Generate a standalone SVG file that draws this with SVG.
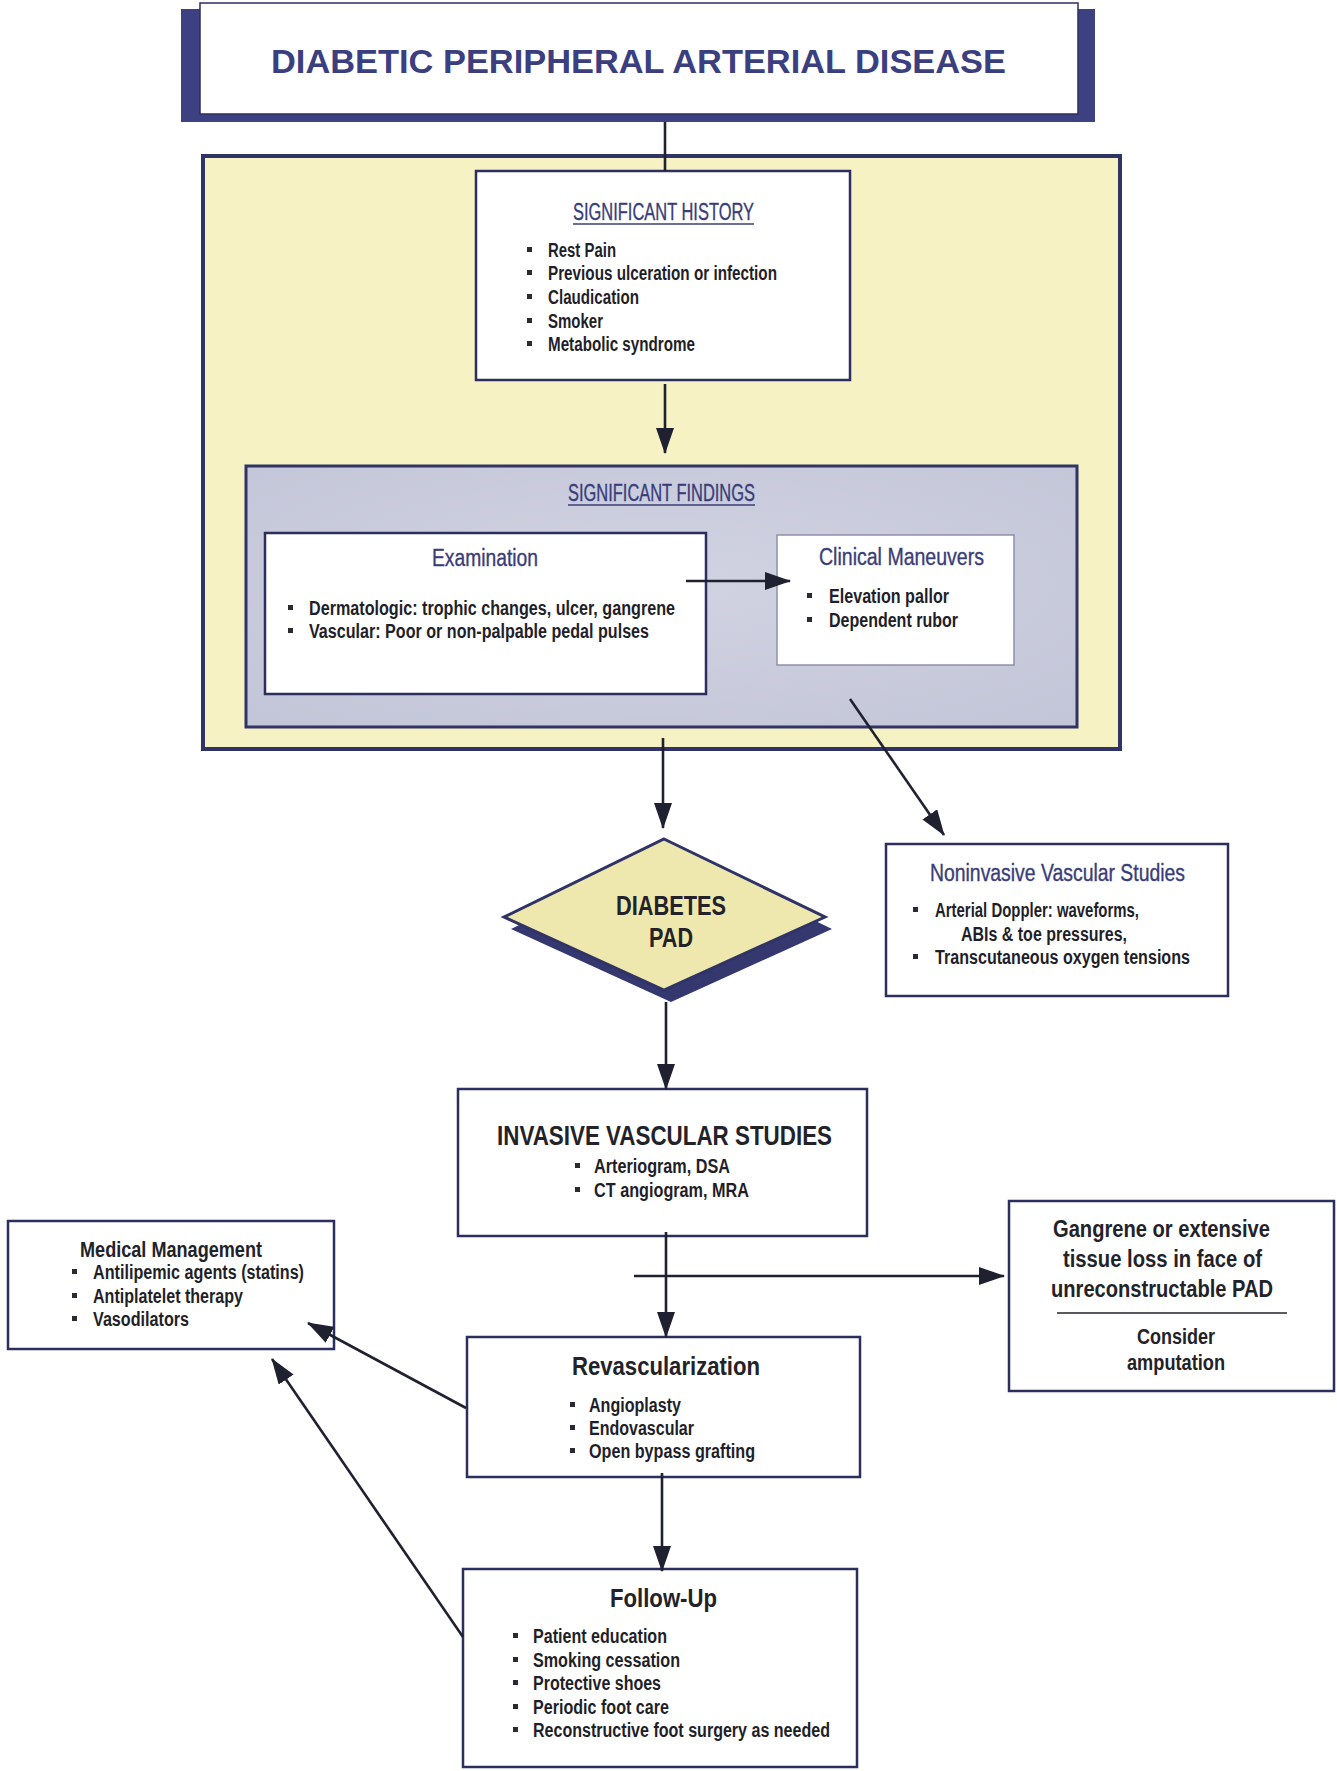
<svg xmlns="http://www.w3.org/2000/svg" width="1337" height="1771" viewBox="0 0 1337 1771">
<style>
.bx{fill:#ffffff;stroke:#2c2f5e;stroke-width:2.5}
.t{font-family:"Liberation Sans Narrow","Liberation Sans",Arial,sans-serif;font-weight:bold;fill:#1f1f29}
.b{font-size:20px}
.nv{font-family:"Liberation Sans Narrow","Liberation Sans",Arial,sans-serif;font-weight:normal;fill:#3a3d78;font-size:23px;stroke:#3a3d78;stroke-width:0.35}
.h{font-family:"Liberation Sans Narrow","Liberation Sans",Arial,sans-serif;font-weight:bold;fill:#222228}
.blt{fill:#2a2a33}
.c{stroke:#1f2030;stroke-width:2.6;fill:none}
.ca{stroke:#1f2030;stroke-width:2.6;fill:none;marker-end:url(#ah)}
</style>
<defs>
<marker id="ah" viewBox="0 0 26 18" markerWidth="26" markerHeight="18" refX="25" refY="9" orient="auto" markerUnits="userSpaceOnUse">
<path d="M0,0 L26,9 L0,18 z" fill="#1f2030"/>
</marker>
<radialGradient id="lav" cx="0.5" cy="0.45" r="0.7">
<stop offset="0" stop-color="#d1d3e2"/>
<stop offset="1" stop-color="#c3c6d8"/>
</radialGradient>
</defs>
<rect width="1337" height="1771" fill="#ffffff"/>

<g id="title">
<rect x="181" y="9" width="914" height="113" fill="#3d4182"/>
<rect x="200" y="3" width="878" height="111" fill="#ffffff" stroke="#2c2f5e" stroke-width="1.5"/>
<text x="271" y="73" textLength="735" lengthAdjust="spacingAndGlyphs" style="font-family:'Liberation Sans',Arial,sans-serif;font-weight:bold;font-size:34px;fill:#3b3f80">DIABETIC PERIPHERAL ARTERIAL DISEASE</text>
</g>

<g id="history-panel">
<rect x="203" y="156" width="917" height="593" fill="#f6f2c3" stroke="#2f3366" stroke-width="4"/>
</g>

<g id="significant-history">
<rect class="bx" x="476" y="171" width="374" height="209"/>
<text class="nv" x="573" y="220" textLength="181" lengthAdjust="spacingAndGlyphs">SIGNIFICANT HISTORY</text>
<line x1="573" y1="224" x2="754" y2="224" stroke="#3a3d78" stroke-width="1.5"/>
<rect class="blt" x="527" y="247" width="5" height="5"/>
<text class="t b" x="548" y="257" textLength="68" lengthAdjust="spacingAndGlyphs">Rest Pain</text>
<rect class="blt" x="527" y="270" width="5" height="5"/>
<text class="t b" x="548" y="280" textLength="229" lengthAdjust="spacingAndGlyphs">Previous ulceration or infection</text>
<rect class="blt" x="527" y="294" width="5" height="5"/>
<text class="t b" x="548" y="304" textLength="91" lengthAdjust="spacingAndGlyphs">Claudication</text>
<rect class="blt" x="527" y="318" width="5" height="5"/>
<text class="t b" x="548" y="328" textLength="55" lengthAdjust="spacingAndGlyphs">Smoker</text>
<rect class="blt" x="527" y="341" width="5" height="5"/>
<text class="t b" x="548" y="351" textLength="147" lengthAdjust="spacingAndGlyphs">Metabolic syndrome</text>
</g>

<g id="significant-findings">
<rect x="246" y="466" width="831" height="261" fill="url(#lav)" stroke="#2f3366" stroke-width="3"/>
<text class="nv" x="568" y="501" textLength="187" lengthAdjust="spacingAndGlyphs">SIGNIFICANT FINDINGS</text>
<line x1="568" y1="505" x2="755" y2="505" stroke="#3a3d78" stroke-width="1.5"/>
</g>

<g id="examination">
<rect class="bx" x="265" y="533" width="441" height="161" stroke-width="2"/>
<text class="nv" x="432" y="566" textLength="106" lengthAdjust="spacingAndGlyphs">Examination</text>
<rect class="blt" x="288" y="605" width="5" height="5"/>
<text class="t b" x="309" y="615" textLength="366" lengthAdjust="spacingAndGlyphs">Dermatologic: trophic changes, ulcer, gangrene</text>
<rect class="blt" x="288" y="628" width="5" height="5"/>
<text class="t b" x="309" y="638" textLength="340" lengthAdjust="spacingAndGlyphs">Vascular: Poor or non-palpable pedal pulses</text>
</g>

<g id="clinical-maneuvers">
<rect x="777" y="535" width="237" height="130" fill="#ffffff" stroke="#8d90ab" stroke-width="1.5"/>
<text class="nv" x="819" y="565" textLength="165" lengthAdjust="spacingAndGlyphs">Clinical Maneuvers</text>
<rect class="blt" x="807" y="593" width="5" height="5"/>
<text class="t b" x="829" y="603" textLength="120" lengthAdjust="spacingAndGlyphs">Elevation pallor</text>
<rect class="blt" x="807" y="617" width="5" height="5"/>
<text class="t b" x="829" y="627" textLength="129" lengthAdjust="spacingAndGlyphs">Dependent rubor</text>
</g>

<g id="diabetes-pad">
<polygon points="671,851 832,929 671,1002 511,929" fill="#34386f"/>
<polygon points="664,839 825,917 664,990 504,917" fill="#efe8ae" stroke="#2f3366" stroke-width="3"/>
<text class="h" x="616" y="915" textLength="110" lengthAdjust="spacingAndGlyphs" style="font-size:27px">DIABETES</text>
<text class="h" x="649" y="947" textLength="44" lengthAdjust="spacingAndGlyphs" style="font-size:27px">PAD</text>
</g>

<g id="noninvasive-studies">
<rect class="bx" x="886" y="844" width="342" height="152"/>
<text class="nv" x="930" y="881" textLength="255" lengthAdjust="spacingAndGlyphs">Noninvasive Vascular Studies</text>
<rect class="blt" x="913" y="907" width="5" height="5"/>
<text class="t b" x="935" y="917" textLength="204" lengthAdjust="spacingAndGlyphs">Arterial Doppler: waveforms,</text>
<text class="t b" x="961" y="941" textLength="166" lengthAdjust="spacingAndGlyphs">ABIs &amp; toe pressures,</text>
<rect class="blt" x="913" y="954" width="5" height="5"/>
<text class="t b" x="935" y="964" textLength="255" lengthAdjust="spacingAndGlyphs">Transcutaneous oxygen tensions</text>
</g>

<g id="invasive-studies">
<rect class="bx" x="458" y="1089" width="409" height="147"/>
<text class="h" x="497" y="1145" textLength="335" lengthAdjust="spacingAndGlyphs" style="font-size:28px">INVASIVE VASCULAR STUDIES</text>
<rect class="blt" x="575" y="1163" width="5" height="5"/>
<text class="t b" x="594" y="1173" textLength="136" lengthAdjust="spacingAndGlyphs">Arteriogram, DSA</text>
<rect class="blt" x="575" y="1187" width="5" height="5"/>
<text class="t b" x="594" y="1197" textLength="155" lengthAdjust="spacingAndGlyphs">CT angiogram, MRA</text>
</g>

<g id="medical-management">
<rect class="bx" x="8" y="1221" width="326" height="128"/>
<text class="h" x="80" y="1257" textLength="182" lengthAdjust="spacingAndGlyphs" style="font-size:22px">Medical Management</text>
<rect class="blt" x="72" y="1269" width="5" height="5"/>
<text class="t b" x="93" y="1279" textLength="211" lengthAdjust="spacingAndGlyphs">Antilipemic agents (statins)</text>
<rect class="blt" x="72" y="1293" width="5" height="5"/>
<text class="t b" x="93" y="1303" textLength="150" lengthAdjust="spacingAndGlyphs">Antiplatelet therapy</text>
<rect class="blt" x="72" y="1316" width="5" height="5"/>
<text class="t b" x="93" y="1326" textLength="96" lengthAdjust="spacingAndGlyphs">Vasodilators</text>
</g>

<g id="amputation">
<rect class="bx" x="1009" y="1201" width="325" height="190"/>
<text class="h" x="1053" y="1237" textLength="217" lengthAdjust="spacingAndGlyphs" style="font-size:23px">Gangrene or extensive</text>
<text class="h" x="1063" y="1267" textLength="199" lengthAdjust="spacingAndGlyphs" style="font-size:23px">tissue loss in face of</text>
<text class="h" x="1051" y="1297" textLength="222" lengthAdjust="spacingAndGlyphs" style="font-size:23px">unreconstructable PAD</text>
<line x1="1057" y1="1313" x2="1287" y2="1313" stroke="#222228" stroke-width="1.5"/>
<text class="h" x="1137" y="1344" textLength="78" lengthAdjust="spacingAndGlyphs" style="font-size:22px">Consider</text>
<text class="h" x="1127" y="1370" textLength="98" lengthAdjust="spacingAndGlyphs" style="font-size:22px">amputation</text>
</g>

<g id="revascularization">
<rect class="bx" x="467" y="1337" width="393" height="140"/>
<text class="h" x="572" y="1375" textLength="188" lengthAdjust="spacingAndGlyphs" style="font-size:26px">Revascularization</text>
<rect class="blt" x="570" y="1402" width="5" height="5"/>
<text class="t b" x="589" y="1412" textLength="92" lengthAdjust="spacingAndGlyphs">Angioplasty</text>
<rect class="blt" x="570" y="1425" width="5" height="5"/>
<text class="t b" x="589" y="1435" textLength="105" lengthAdjust="spacingAndGlyphs">Endovascular</text>
<rect class="blt" x="570" y="1448" width="5" height="5"/>
<text class="t b" x="589" y="1458" textLength="166" lengthAdjust="spacingAndGlyphs">Open bypass grafting</text>
</g>

<g id="follow-up">
<rect class="bx" x="463" y="1569" width="394" height="198"/>
<text class="h" x="610" y="1607" textLength="107" lengthAdjust="spacingAndGlyphs" style="font-size:26px">Follow-Up</text>
<rect class="blt" x="513" y="1633" width="5" height="5"/>
<text class="t b" x="533" y="1643" textLength="134" lengthAdjust="spacingAndGlyphs">Patient education</text>
<rect class="blt" x="513" y="1657" width="5" height="5"/>
<text class="t b" x="533" y="1667" textLength="147" lengthAdjust="spacingAndGlyphs">Smoking cessation</text>
<rect class="blt" x="513" y="1680" width="5" height="5"/>
<text class="t b" x="533" y="1690" textLength="128" lengthAdjust="spacingAndGlyphs">Protective shoes</text>
<rect class="blt" x="513" y="1704" width="5" height="5"/>
<text class="t b" x="533" y="1714" textLength="136" lengthAdjust="spacingAndGlyphs">Periodic foot care</text>
<rect class="blt" x="513" y="1727" width="5" height="5"/>
<text class="t b" x="533" y="1737" textLength="297" lengthAdjust="spacingAndGlyphs">Reconstructive foot surgery as needed</text>
</g>

<g id="connectors">
<line class="c" x1="665" y1="122" x2="665" y2="171" stroke-width="1.5"/>
<line class="ca" x1="665" y1="384" x2="665" y2="453"/>
<line class="ca" x1="686" y1="581" x2="790" y2="581"/>
<line class="ca" x1="663" y1="738" x2="663" y2="828"/>
<line class="ca" x1="850" y1="699" x2="944" y2="835"/>
<line class="ca" x1="666" y1="1002" x2="666" y2="1089"/>
<line class="ca" x1="666" y1="1232" x2="666" y2="1337"/>
<line class="ca" x1="634" y1="1276" x2="1004" y2="1276"/>
<line class="ca" x1="466" y1="1408" x2="308" y2="1323"/>
<line class="ca" x1="463" y1="1637" x2="272" y2="1359"/>
<line class="ca" x1="662" y1="1473" x2="662" y2="1571"/>
</g>
</svg>
